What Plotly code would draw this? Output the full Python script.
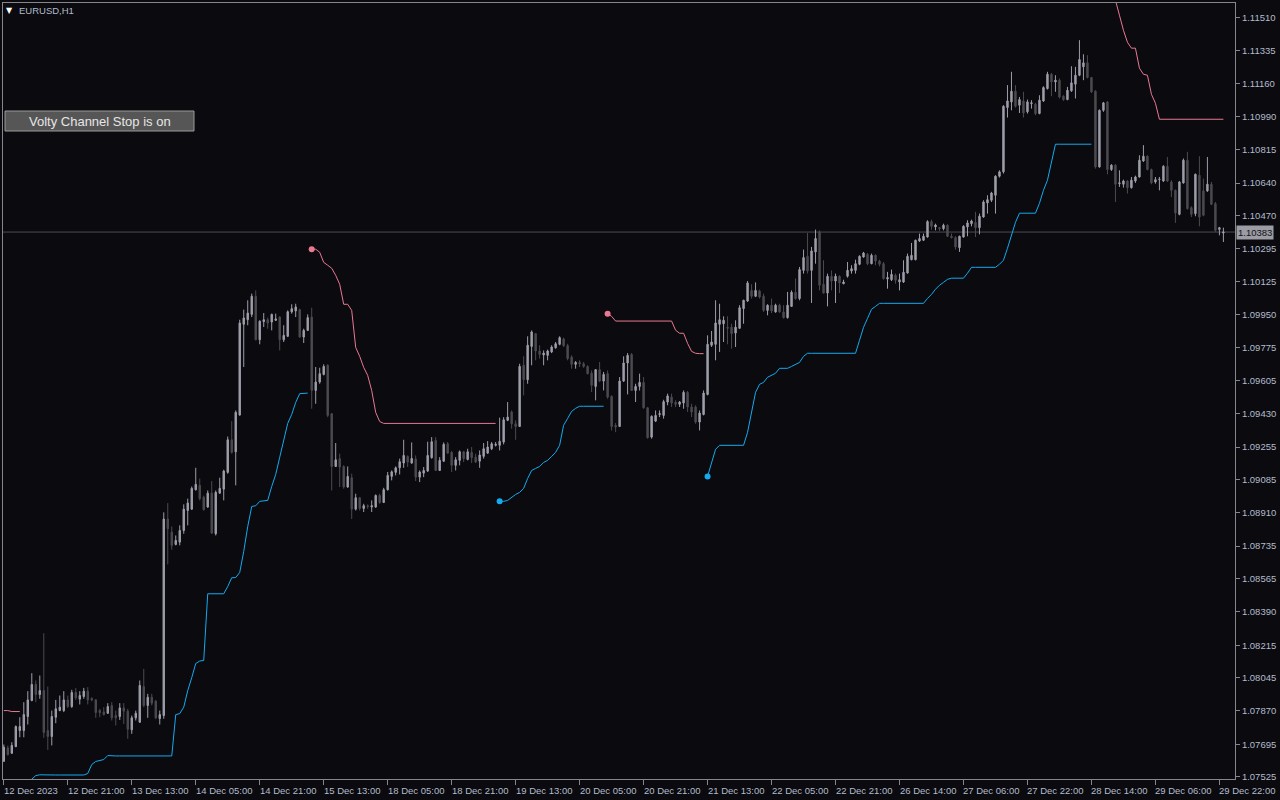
import plotly.graph_objects as go

# ---------------- data (EURUSD H1) ----------------
opn = [
1.07606,1.07676,1.07648,1.07683,1.07767,1.07767,1.07841,1.07925,1.08009,1.07956,
1.07977,1.07767,1.07736,1.07837,1.07872,1.07872,1.07928,1.07893,1.07967,1.07932,
1.07946,1.07974,1.07935,1.07928,1.07872,1.07865,1.07858,1.07898,1.07846,1.07841,
1.07886,1.07869,1.07771,1.07834,1.07811,1.07998,1.07899,1.07942,1.07921,1.07830,
1.07846,1.08877,1.08809,1.08744,1.08756,1.08817,1.08922,1.08929,1.09031,1.09054,
1.08992,1.08940,1.09013,1.08800,1.09013,1.09034,1.09122,1.09293,1.09230,1.09423,
1.09899,1.09923,1.09951,1.10046,1.09818,1.09913,1.09923,1.09911,1.09920,1.09937,
1.09818,1.09836,1.09964,1.09969,1.09976,1.09832,1.09867,1.09937,1.09552,1.09596,
1.09636,1.09684,1.09430,1.09153,1.09194,1.09153,1.09045,1.09094,1.08929,1.08989,
1.08933,1.08947,1.08940,1.08940,1.09001,1.08964,1.09031,1.09101,1.09122,1.09146,
1.09171,1.09206,1.09171,1.09192,1.09097,1.09118,1.09129,1.09199,1.09290,1.09132,
1.09181,1.09272,1.09227,1.09159,1.09185,1.09230,1.09190,1.09227,1.09202,1.09181,
1.09206,1.09223,1.09246,1.09264,1.09264,1.09281,1.09395,1.09439,1.09377,1.09363,
1.09684,1.09608,1.09783,1.09850,1.09759,1.09738,1.09736,1.09754,1.09776,1.09794,
1.09822,1.09787,1.09727,1.09689,1.09699,1.09692,1.09678,1.09643,1.09573,1.09661,
1.09601,1.09640,1.09521,1.09368,1.09363,1.09601,1.09696,1.09741,1.09552,1.09573,
1.09594,1.09461,1.09307,1.09391,1.09426,1.09421,1.09491,1.09517,1.09489,1.09479,
1.09486,1.09542,1.09465,1.09465,1.09386,1.09426,1.09531,1.09789,1.09794,1.09899,
1.09902,1.09884,1.09884,1.09853,1.09878,1.09981,1.10021,1.10077,1.10046,1.10074,
1.10046,1.09972,1.09999,1.09964,1.09999,1.09964,1.09934,1.09993,1.10067,1.10034,
1.10182,1.10256,1.10182,1.10279,1.10384,1.10109,1.10063,1.10151,1.10126,1.10151,
1.10112,1.10151,1.10179,1.10182,1.10214,1.10252,1.10266,1.10217,1.10261,1.10231,
1.10217,1.10137,1.10133,1.10156,1.10121,1.10121,1.10168,1.10238,1.10238,1.10336,
1.10340,1.10357,1.10438,1.10410,1.10406,1.10401,1.10419,1.10361,1.10354,1.10301,
1.10357,1.10410,1.10427,1.10434,1.10406,1.10462,1.10536,1.10550,1.10576,1.10676,
1.10699,1.11036,1.11066,1.11122,1.11049,1.11071,1.11014,1.11057,1.11054,1.11005,
1.11071,1.11136,1.11211,1.11171,1.11180,1.11096,1.11078,1.11124,1.11159,1.11206,
1.11250,1.11271,1.11194,1.11122,1.10725,1.11022,1.11066,1.10711,1.10734,1.10637,
1.10634,1.10651,1.10616,1.10651,1.10672,1.10756,1.10781,1.10711,1.10646,1.10658,
1.10651,1.10728,1.10646,1.10602,1.10476,1.10641,1.10760,1.10511,1.10480,1.10681,
1.10599,1.10599,1.10634,1.10532,1.10397,1.10378]

high = [
1.07694,1.07688,1.07706,1.07794,1.07837,1.07916,1.07974,1.08068,1.08030,1.08056,
1.08278,1.07998,1.07872,1.07928,1.07951,1.07974,1.07951,1.07981,1.07991,1.07974,
1.07991,1.07995,1.07942,1.07933,1.07881,1.07890,1.07911,1.07916,1.07872,1.07911,
1.07911,1.07881,1.07846,1.07872,1.08030,1.08091,1.07960,1.07960,1.07928,1.07872,
1.08912,1.08961,1.08838,1.08791,1.08844,1.08954,1.08984,1.09048,1.09146,1.09089,
1.09000,1.09027,1.09076,1.09027,1.09094,1.09136,1.09310,1.09391,1.09447,1.09923,
1.09976,1.10025,1.10060,1.10077,1.09920,1.09958,1.09934,1.09955,1.09955,1.09941,
1.09894,1.09972,1.10004,1.10007,1.09981,1.09876,1.09951,1.09986,1.09675,1.09671,
1.09689,1.09689,1.09433,1.09276,1.09220,1.09159,1.09153,1.09115,1.09010,1.08992,
1.08957,1.08954,1.08975,1.09006,1.09010,1.09041,1.09124,1.09132,1.09153,1.09194,
1.09293,1.09211,1.09279,1.09211,1.09132,1.09150,1.09283,1.09307,1.09307,1.09202,
1.09279,1.09281,1.09234,1.09202,1.09237,1.09234,1.09246,1.09255,1.09220,1.09237,
1.09276,1.09286,1.09281,1.09281,1.09409,1.09412,1.09491,1.09447,1.09395,1.09692,
1.09731,1.09836,1.09867,1.09853,1.09789,1.09762,1.09766,1.09789,1.09806,1.09836,
1.09829,1.09797,1.09736,1.09706,1.09710,1.09701,1.09684,1.09657,1.09664,1.09701,
1.09649,1.09657,1.09526,1.09381,1.09622,1.09731,1.09748,1.09748,1.09587,1.09640,
1.09622,1.09465,1.09421,1.09447,1.09447,1.09503,1.09535,1.09535,1.09500,1.09496,
1.09552,1.09549,1.09482,1.09474,1.09447,1.09552,1.09841,1.09864,1.10025,1.10007,
1.09941,1.09941,1.09902,1.09920,1.09999,1.10028,1.10126,1.10109,1.10119,1.10081,
1.10060,1.10004,1.10034,1.10007,1.10007,1.09999,1.10069,1.10077,1.10139,1.10200,
1.10291,1.10378,1.10305,1.10396,1.10392,1.10235,1.10165,1.10182,1.10165,1.10156,
1.10133,1.10226,1.10209,1.10238,1.10261,1.10279,1.10273,1.10270,1.10266,1.10238,
1.10226,1.10174,1.10186,1.10165,1.10165,1.10235,1.10270,1.10326,1.10343,1.10375,
1.10375,1.10445,1.10448,1.10427,1.10410,1.10427,1.10424,1.10375,1.10361,1.10364,
1.10419,1.10445,1.10448,1.10489,1.10480,1.10550,1.10576,1.10594,1.10681,1.10707,
1.11049,1.11154,1.11224,1.11154,1.11092,1.11119,1.11078,1.11075,1.11061,1.11101,
1.11148,1.11224,1.11218,1.11206,1.11189,1.11101,1.11145,1.11253,1.11250,1.11390,
1.11316,1.11311,1.11197,1.11127,1.11026,1.11066,1.11071,1.10739,1.10739,1.10707,
1.10658,1.10655,1.10672,1.10679,1.10786,1.10839,1.10786,1.10716,1.10672,1.10672,
1.10734,1.10777,1.10655,1.10606,1.10651,1.10769,1.10804,1.10518,1.10690,1.10781,
1.10664,1.10777,1.10646,1.10541,1.10410,1.10406]

low = [
1.07603,1.07636,1.07645,1.07680,1.07732,1.07732,1.07799,1.07921,1.07916,1.07934,
1.07729,1.07666,1.07689,1.07806,1.07869,1.07864,1.07886,1.07886,1.07928,1.07904,
1.07934,1.07904,1.07921,1.07834,1.07837,1.07846,1.07855,1.07820,1.07794,1.07823,
1.07802,1.07724,1.07750,1.07820,1.07808,1.07890,1.07834,1.07899,1.07827,1.07799,
1.07829,1.08639,1.08716,1.08739,1.08739,1.08800,1.08844,1.08925,1.09027,1.08975,
1.08922,1.08936,1.08800,1.08791,1.09010,1.08975,1.09115,1.09220,1.09054,1.09419,
1.09675,1.09894,1.09937,1.09815,1.09794,1.09885,1.09876,1.09867,1.09916,1.09762,
1.09806,1.09832,1.09955,1.09937,1.09829,1.09801,1.09864,1.09456,1.09482,1.09587,
1.09631,1.09412,1.09027,1.09150,1.09045,1.09036,1.09041,1.08877,1.08922,1.08922,
1.08914,1.08931,1.08914,1.08936,1.08957,1.08961,1.09027,1.09080,1.09106,1.09111,
1.09146,1.09150,1.09167,1.09076,1.09071,1.09097,1.09124,1.09194,1.09129,1.09129,
1.09176,1.09220,1.09124,1.09132,1.09159,1.09176,1.09185,1.09171,1.09171,1.09146,
1.09194,1.09220,1.09239,1.09258,1.09237,1.09269,1.09391,1.09351,1.09293,1.09360,
1.09526,1.09587,1.09684,1.09710,1.09719,1.09684,1.09710,1.09748,1.09771,1.09789,
1.09780,1.09710,1.09666,1.09666,1.09675,1.09671,1.09636,1.09543,1.09500,1.09596,
1.09552,1.09508,1.09342,1.09333,1.09360,1.09596,1.09531,1.09549,1.09491,1.09552,
1.09456,1.09299,1.09299,1.09386,1.09412,1.09404,1.09474,1.09465,1.09465,1.09465,
1.09456,1.09439,1.09412,1.09377,1.09342,1.09421,1.09526,1.09780,1.09710,1.09754,
1.09806,1.09794,1.09771,1.09780,1.09875,1.09902,1.10016,1.10034,1.10042,1.10034,
1.09964,1.09946,1.09958,1.09960,1.09960,1.09929,1.09929,1.09990,1.10028,1.10025,
1.10165,1.10165,1.10011,1.10217,1.10077,1.10060,1.09993,1.10077,1.10011,1.10063,
1.10109,1.10144,1.10165,1.10165,1.10209,1.10249,1.10209,1.10214,1.10209,1.10203,
1.10133,1.10086,1.10126,1.10112,1.10077,1.10116,1.10165,1.10235,1.10235,1.10331,
1.10336,1.10354,1.10396,1.10392,1.10389,1.10392,1.10357,1.10349,1.10291,1.10279,
1.10354,1.10361,1.10413,1.10357,1.10371,1.10459,1.10480,1.10541,1.10480,1.10669,
1.10690,1.10984,1.11022,1.11036,1.11008,1.10984,1.11005,1.11031,1.10996,1.11001,
1.11066,1.11131,1.11096,1.11119,1.11084,1.11071,1.11075,1.11119,1.11084,1.11201,
1.11180,1.11189,1.11113,1.10716,1.10721,1.11014,1.10686,1.10704,1.10541,1.10620,
1.10616,1.10585,1.10611,1.10641,1.10669,1.10751,1.10707,1.10634,1.10637,1.10602,
1.10646,1.10646,1.10567,1.10431,1.10471,1.10637,1.10501,1.10462,1.10466,1.10413,
1.10466,1.10594,1.10524,1.10384,1.10366,1.10331]

close = [
1.07680,1.07641,1.07689,1.07788,1.07788,1.07851,1.07928,1.08009,1.07956,1.07977,
1.07757,1.07736,1.07841,1.07881,1.07890,1.07928,1.07893,1.07967,1.07939,1.07951,
1.07974,1.07928,1.07928,1.07862,1.07862,1.07851,1.07893,1.07834,1.07834,1.07886,
1.07869,1.07774,1.07834,1.07858,1.08004,1.07899,1.07942,1.07911,1.07834,1.07851,
1.08877,1.08826,1.08739,1.08765,1.08817,1.08929,1.08961,1.09038,1.09059,1.08984,
1.08926,1.09013,1.08803,1.09017,1.09038,1.09129,1.09293,1.09227,1.09437,1.09906,
1.09932,1.09958,1.10046,1.09818,1.09915,1.09923,1.09906,1.09951,1.09927,1.09818,
1.09841,1.09965,1.09981,1.09990,1.09832,1.09867,1.09934,1.09552,1.09596,1.09640,
1.09678,1.09421,1.09153,1.09188,1.09150,1.09045,1.09101,1.08929,1.08989,1.08933,
1.08947,1.08943,1.08947,1.09001,1.08964,1.09031,1.09106,1.09125,1.09146,1.09178,
1.09211,1.09176,1.09195,1.09097,1.09124,1.09132,1.09211,1.09283,1.09132,1.09185,
1.09269,1.09223,1.09159,1.09188,1.09230,1.09194,1.09230,1.09199,1.09176,1.09213,
1.09246,1.09255,1.09272,1.09269,1.09285,1.09398,1.09412,1.09377,1.09363,1.09678,
1.09608,1.09789,1.09859,1.09759,1.09741,1.09748,1.09759,1.09780,1.09797,1.09829,
1.09787,1.09719,1.09689,1.09699,1.09692,1.09678,1.09640,1.09579,1.09661,1.09601,
1.09636,1.09517,1.09363,1.09360,1.09601,1.09696,1.09736,1.09552,1.09573,1.09594,
1.09461,1.09304,1.09416,1.09421,1.09430,1.09493,1.09523,1.09486,1.09479,1.09491,
1.09542,1.09465,1.09439,1.09386,1.09433,1.09538,1.09794,1.09806,1.09906,1.09923,
1.09920,1.09878,1.09850,1.09884,1.09986,1.10025,1.10116,1.10046,1.10077,1.10042,
1.09972,1.09999,1.09969,1.09999,1.09964,1.09934,1.09999,1.10067,1.10034,1.10186,
1.10249,1.10179,1.10284,1.10349,1.10104,1.10063,1.10151,1.10126,1.10151,1.10116,
1.10121,1.10182,1.10191,1.10217,1.10256,1.10273,1.10217,1.10261,1.10231,1.10214,
1.10139,1.10144,1.10161,1.10130,1.10133,1.10172,1.10256,1.10261,1.10340,1.10349,
1.10361,1.10438,1.10413,1.10420,1.10401,1.10419,1.10361,1.10354,1.10305,1.10361,
1.10413,1.10431,1.10441,1.10406,1.10466,1.10541,1.10553,1.10588,1.10676,1.10699,
1.11043,1.11071,1.11122,1.11043,1.11078,1.11008,1.11066,1.11061,1.11005,1.11075,
1.11141,1.11211,1.11171,1.11180,1.11092,1.11078,1.11127,1.11166,1.11206,1.11288,
1.11271,1.11194,1.11119,1.10725,1.11022,1.11061,1.10711,1.10734,1.10634,1.10641,
1.10651,1.10616,1.10655,1.10672,1.10760,1.10781,1.10711,1.10641,1.10658,1.10660,
1.10728,1.10651,1.10602,1.10483,1.10646,1.10760,1.10506,1.10476,1.10686,1.10462,
1.10471,1.10634,1.10529,1.10392,1.10406,1.10383]

# Volty Channel Stop: support (blue) and resistance (pink) segments, as (first bar, values)
blue_seg1_start = 5
blue_seg1 = [1.07480,1.07500,1.07512,1.07531,1.07535,
             1.07534,1.07534,1.07534,1.07534,1.07534,1.07534,1.07534,1.07534,1.07534,1.07534,1.07534,
             1.07542,1.07589,1.07605,1.07610,1.07615,1.07636,
             1.07634,1.07634,1.07634,1.07634,1.07634,1.07634,1.07634,1.07634,
             1.07634,1.07634,1.07634,1.07634,1.07634,1.07634,1.07634,1.07634,
             1.07851,1.07856,1.07890,1.07977,1.08045,1.08119,1.08132,1.08135,
             1.08485,1.08485,1.08485,1.08485,1.08485,
             1.08523,1.08569,1.08570,1.08597,1.08707,1.08838,1.08943,1.08947,1.08970,1.08973,1.08975,
             1.09048,1.09111,1.09201,1.09290,1.09379,1.09426,1.09489,1.09535,1.09538,1.09538]
blue_seg2_start = 124
blue_seg2 = [1.08970,1.08970,1.08975,1.08991,1.09006,1.09017,1.09038,1.09090,1.09132,1.09143,
             1.09153,1.09174,1.09185,1.09206,1.09227,1.09264,1.09369,1.09405,1.09442,1.09458,
             1.09469,1.09469,1.09469,1.09469,1.09469,1.09469,1.09469]
blue_seg3_start = 176
blue_seg3 = [1.09101,1.09174,1.09243,1.09264,
             1.09264,1.09264,1.09264,1.09264,1.09264,1.09264,
             1.09332,1.09447,1.09542,1.09584,1.09594,1.09621,1.09631,1.09642,1.09668,1.09668,
             1.09668,1.09678,1.09689,1.09699,1.09731,1.09747,
             1.09747,1.09747,1.09747,1.09747,1.09747,1.09747,1.09747,1.09747,1.09747,1.09747,1.09747,1.09747,
             1.09815,1.09883,1.09930,1.09978,1.09993,1.10009,
             1.10009,1.10009,1.10009,1.10009,1.10009,1.10009,1.10009,1.10009,1.10009,1.10009,1.10009,
             1.10035,1.10056,1.10083,1.10104,1.10119,1.10135,1.10141,
             1.10141,1.10141,1.10141,
             1.10167,1.10198,
             1.10198,1.10198,1.10198,1.10198,1.10198,1.10198,
             1.10214,1.10235,1.10298,1.10366,1.10434,1.10482,
             1.10482,1.10482,1.10482,1.10482,
             1.10534,1.10602,1.10655,1.10749,1.10844,
             1.10844,1.10844,1.10844,1.10844,1.10844,1.10844,1.10844,1.10844,1.10844]

pink_seg1_start = 0
pink_seg1 = [1.07872,1.07872,1.07867,1.07867,1.07867]
pink_seg2_start = 77
pink_seg2 = [1.10293,1.10293,1.10277,1.10224,1.10209,1.10193,1.10156,1.10109,1.10004,1.10004,
             1.09972,1.09778,1.09731,1.09673,1.09631,1.09552,1.09437,1.09389] + [1.09379] * 29
pink_seg3_start = 151
pink_seg3 = [1.09955,1.09941] + [1.09916] * 15 + [1.09868,1.09852,1.09852,1.09799,1.09757,1.09747,1.09745,1.09745]
pink_seg4_start = 273
pink_seg4 = [1.11900,1.11850,1.11780,1.11720,1.11660,1.11600,1.11521,1.11442,1.11379,1.11348,
             1.11348,1.11243,1.11211,1.11206,1.11106,1.11059,1.10975] + [1.10975] * 16

tick_bars = [0,16,32,48,64,80,96,112,128,144,160,176,192,208,224,240,256,272,288,304]
tick_labels = ["12 Dec 2023","12 Dec 21:00","13 Dec 13:00","14 Dec 05:00","14 Dec 21:00",
               "15 Dec 13:00","18 Dec 05:00","18 Dec 21:00","19 Dec 13:00","20 Dec 05:00",
               "20 Dec 21:00","21 Dec 13:00","22 Dec 05:00","22 Dec 21:00","26 Dec 14:00",
               "27 Dec 06:00","27 Dec 22:00","28 Dec 14:00","29 Dec 06:00","29 Dec 22:00"]
price_ticks = ["1.11510","1.11335","1.11160","1.10990","1.10815","1.10640","1.10470","1.10295",
               "1.10125","1.09950","1.09775","1.09605","1.09430","1.09255","1.09085","1.08910",
               "1.08735","1.08565","1.08390","1.08215","1.08045","1.07870","1.07695","1.07525"]
last_price = 1.10383
symbol_label = "EURUSD,H1"
button_label = "Volty Channel Stop is on"

# ---------------- styling ----------------
BG = "#0a0a0f"
FRAME = "#86868c"
TXT = "#b4bccb"
BULL = "#9e9eab"
BEAR = "#4b4b50"
BLUE = "#14aaf0"
PINK = "#ea7891"
FONT = "Liberation Sans"

n = len(close)
xs = list(range(n))


def build(segments):
    arr = [None] * n
    for start, vals in segments:
        for k, v in enumerate(vals):
            arr[start + k] = v
    return arr


blue = build([(blue_seg1_start, blue_seg1), (blue_seg2_start, blue_seg2), (blue_seg3_start, blue_seg3)])
pink = build([(pink_seg1_start, pink_seg1), (pink_seg2_start, pink_seg2),
              (pink_seg3_start, pink_seg3), (pink_seg4_start, pink_seg4)])

fig = go.Figure()
fig.add_trace(go.Candlestick(
    x=xs, open=opn, high=high, low=low, close=close,
    increasing=dict(line=dict(color=BULL, width=1), fillcolor=BULL),
    decreasing=dict(line=dict(color=BEAR, width=1), fillcolor=BEAR),
    whiskerwidth=0, hoverinfo="skip", showlegend=False))

fig.add_trace(go.Scatter(x=xs, y=blue, mode="lines", line=dict(color=BLUE, width=1),
                         connectgaps=False, hoverinfo="skip", showlegend=False))
fig.add_trace(go.Scatter(x=xs, y=pink, mode="lines", line=dict(color=PINK, width=1),
                         connectgaps=False, hoverinfo="skip", showlegend=False))

b_starts = [blue_seg1_start, blue_seg2_start, blue_seg3_start]
p_starts = [pink_seg2_start, pink_seg3_start, pink_seg4_start]
fig.add_trace(go.Scatter(x=b_starts, y=[blue[i] for i in b_starts], mode="markers",
                         marker=dict(color=BLUE, size=6), hoverinfo="skip", showlegend=False))
fig.add_trace(go.Scatter(x=p_starts, y=[pink[i] for i in p_starts], mode="markers",
                         marker=dict(color=PINK, size=6), hoverinfo="skip", showlegend=False))

annotations = []
for b, lab in zip(tick_bars, tick_labels):
    annotations.append(dict(x=b, xref="x", y=0, yref="paper", yanchor="top", xanchor="left",
                            xshift=-2, yshift=-4, text=lab, showarrow=False,
                            font=dict(family=FONT, size=9.5, color=TXT)))
annotations.append(dict(x=1, xref="paper", y=last_price, yref="y", xanchor="left", yanchor="middle",
                        xshift=1, text=f"{last_price:.5f}", showarrow=False, bgcolor="#9c9ca4",
                        borderpad=1, font=dict(family=FONT, size=9.5, color="#111111")))
annotations.append(dict(x=0, xref="paper", y=1, yref="paper", xanchor="left", yanchor="middle",
                        xshift=1, yshift=-7, text="▼", showarrow=False,
                        font=dict(family="DejaVu Sans", size=8, color="#ffffff")))
annotations.append(dict(x=0, xref="paper", y=1, yref="paper", xanchor="left", yanchor="middle",
                        xshift=14, yshift=-7, text=symbol_label, showarrow=False,
                        font=dict(family=FONT, size=9.5, color=TXT)))

# button box (plot area: x 3..1235, y 3..779 px)
W, H = 1232.0, 776.0
bx0, bx1, by0, by1 = 5, 194, 111, 131
annotations.append(dict(x=((bx0 + bx1) / 2 - 3) / W, xref="paper", y=1 - ((by0 + by1) / 2 - 3) / H,
                        yref="paper", xanchor="center", yanchor="middle", text=button_label,
                        showarrow=False, font=dict(family=FONT, size=13, color="#e6e6e6")))

shapes = [
    dict(type="line", xref="paper", x0=0, x1=1, yref="y", y0=last_price, y1=last_price,
         line=dict(color="#4c4c54", width=1), layer="below"),
    dict(type="rect", xref="paper", yref="paper", x0=(bx0 - 3) / W, x1=(bx1 - 3) / W,
         y0=1 - (by1 - 3) / H, y1=1 - (by0 - 3) / H, fillcolor="#565656",
         line=dict(color="#9a9a9a", width=1), layer="above"),
]

fig.update_layout(
    width=1280, height=800,
    margin=dict(l=3, r=45, t=3, b=21),
    paper_bgcolor=BG, plot_bgcolor=BG,
    showlegend=False, boxgap=0.5,
    font=dict(family=FONT, color=TXT, size=9.5),
    xaxis=dict(range=[-0.2, 307.9], showgrid=False, zeroline=False, showline=True, mirror=True,
               linecolor=FRAME, linewidth=1, ticks="outside", tickvals=tick_bars, ticklen=5,
               tickcolor=FRAME, showticklabels=False, rangeslider=dict(visible=False), fixedrange=True),
    yaxis=dict(side="right", range=[1.07513, 1.11585], showgrid=False, zeroline=False,
               showline=True, mirror=True, linecolor=FRAME, linewidth=1,
               tickvals=[float(t) for t in price_ticks], ticktext=price_ticks,
               ticks="outside", ticklen=4, tickcolor=FRAME,
               tickfont=dict(family=FONT, size=9.5, color=TXT), fixedrange=True),
    annotations=annotations, shapes=shapes,
)

fig.write_html("out.html", config={"displayModeBar": False},
               post_script="document.body.style.margin='0';document.body.style.background='#0a0a0f';")
